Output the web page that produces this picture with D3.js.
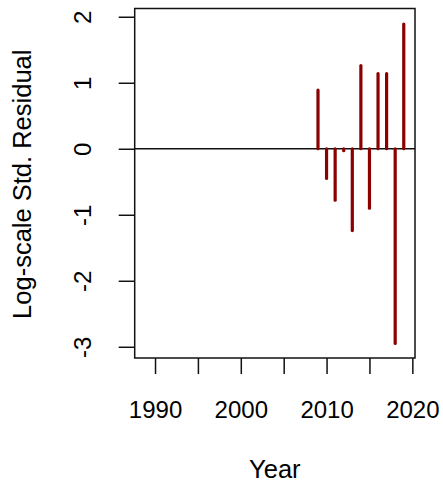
<!DOCTYPE html>
<html>
<head>
<meta charset="utf-8">
<script src="https://cdn.jsdelivr.net/npm/d3@7"></script>
<style>
  html, body { margin: 0; padding: 0; background: #fff; }
  svg { display: block; }
  text { font-family: "Liberation Sans", Arial, sans-serif; fill: #000; }
</style>
</head>
<body>
<svg id="chart" width="443" height="485"></svg>
<script>
// Data
const years = [2009, 2010, 2011, 2012, 2013, 2014, 2015, 2016, 2017, 2018, 2019];
const residuals = [0.89, -0.45, -0.78, -0.03, -1.24, 1.26, -0.90, 1.14, 1.14, -2.95, 1.89];
const xTicks = [1990, 1995, 2000, 2005, 2010, 2015, 2020];
const xTickLabels = ["1990", "", "2000", "", "2010", "", "2020"];
const yTicks = [-3, -2, -1, 0, 1, 2];
const yTickLabels = ["-3", "-2", "-1", "0", "1", "2"];
const xTitle = "Year";
const yTitle = "Log-scale Std. Residual";

const svg = d3.select("#chart");
const plot = { left: 134.7, right: 415, top: 8.5, bottom: 358 };

const x = d3.scaleLinear().domain([1987.63, 2020.31]).range([plot.left, plot.right]);
const y = d3.scaleLinear().domain([-3.17, 2.125]).range([plot.bottom, plot.top]);

const fontSize = 24;
const titleSize = 25.5;

// zero line
svg.append("line")
  .attr("x1", plot.left).attr("x2", plot.right)
  .attr("y1", y(0)).attr("y2", y(0))
  .attr("stroke", "#111").attr("stroke-width", 1.5);

// residual bars
svg.append("g").selectAll("line")
  .data(years.map((yr, i) => ({ yr, v: residuals[i] })))
  .join("line")
  .attr("x1", d => x(d.yr)).attr("x2", d => x(d.yr))
  .attr("y1", y(0)).attr("y2", d => y(d.v))
  .attr("stroke", "#8b0000")
  .attr("stroke-width", 3.2)
  .attr("stroke-linecap", "round");

// box
svg.append("rect")
  .attr("x", plot.left).attr("y", plot.top)
  .attr("width", plot.right - plot.left).attr("height", plot.bottom - plot.top)
  .attr("fill", "none").attr("stroke", "#111").attr("stroke-width", 1.5);

// x axis
const xAxis = svg.append("g")
  .attr("transform", `translate(0,${plot.bottom})`)
  .call(d3.axisBottom(x).tickValues(xTicks).tickSize(16).tickFormat((d, i) => xTickLabels[i]));
xAxis.select(".domain").remove();
xAxis.selectAll(".tick line").attr("stroke", "#111").attr("stroke-width", 1.5);
xAxis.selectAll(".tick text")
  .attr("y", 60).attr("dy", 0)
  .style("font-size", fontSize + "px")
  .attr("fill", "#000");

// y axis
const yAxis = svg.append("g")
  .attr("transform", `translate(${plot.left},0)`)
  .call(d3.axisLeft(y).tickValues(yTicks).tickSize(16).tickFormat((d, i) => yTickLabels[i]));
yAxis.select(".domain").remove();
yAxis.selectAll(".tick line").attr("stroke", "#111").attr("stroke-width", 1.5);
yAxis.selectAll(".tick text")
  .attr("x", 0).attr("y", 0).attr("dy", 0)
  .attr("text-anchor", "middle")
  .attr("transform", `translate(${91 - plot.left},0) rotate(-90)`)
  .style("font-size", fontSize + "px")
  .attr("fill", "#000");

// titles
svg.append("text")
  .attr("x", (plot.left + plot.right) / 2).attr("y", 478)
  .attr("text-anchor", "middle")
  .style("font-size", titleSize + "px")
  .text(xTitle);

svg.append("text")
  .attr("transform", `translate(31,${(plot.top + plot.bottom) / 2 + 1}) rotate(-90)`)
  .attr("text-anchor", "middle")
  .style("font-size", titleSize + "px")
  .text(yTitle);
</script>
</body>
</html>
